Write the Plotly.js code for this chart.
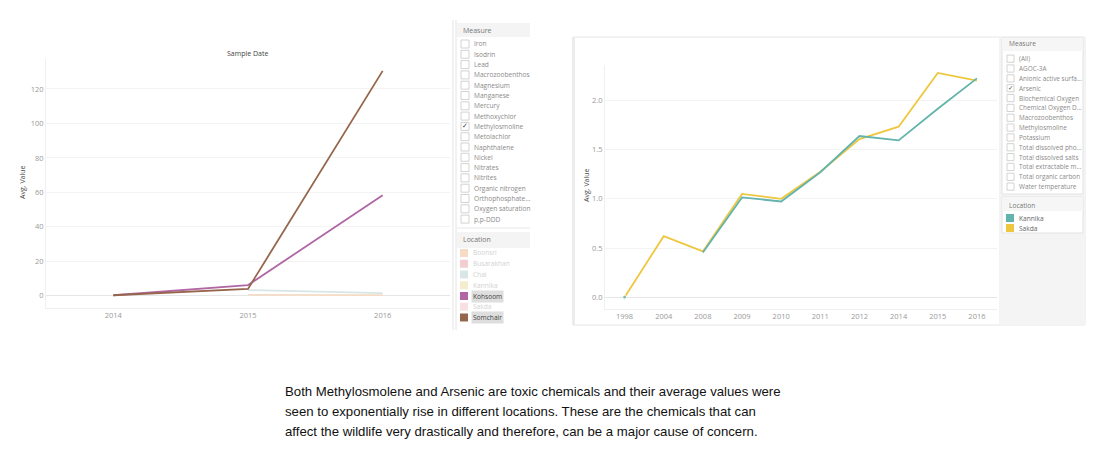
<!DOCTYPE html>
<html><head><meta charset="utf-8">
<script src="https://cdn.plot.ly/plotly-3.0.1.min.js"></script>
<style>html,body{margin:0;padding:0;background:#fff}#c{width:1100px;height:457px}</style>
</head><body><div id="c"></div>
<script>
// ---------- data ----------
const leftYears = ['2014', '2015', '2016'];
const somchair = [0.3, 4.0, 130.5];
const kohsoom = [0.3, 6.2, 58.3];
const chai = [null, 3.3, 1.5];
const boonsri = [null, 0.5, 0.4];

const rightYears = ['1998', '2004', '2008', '2009', '2010', '2011', '2012', '2014', '2015', '2016'];
const sakda = [0.0, 0.62, 0.465, 1.05, 1.0, 1.275, 1.607, 1.733, 2.279, 2.2];
const kannika = [0.0, null, 0.454, 1.014, 0.973, 1.27, 1.638, 1.594, 1.916, 2.224];

const leftMeasures = ['Iron', 'Isodrin', 'Lead', 'Macrozoobenthos', 'Magnesium', 'Manganese', 'Mercury',
  'Methoxychlor', 'Methylosmoline', 'Metolachlor', 'Naphthalene', 'Nickel', 'Nitrates', 'Nitrites',
  'Organic nitrogen', 'Orthophosphate...', 'Oxygen saturation', 'p,p-DDD'];
const leftChecked = 'Methylosmoline';
const leftLocations = ['Boonsri', 'Busarakhan', 'Chai', 'Kannika', 'Kohsoom', 'Sakda', 'Somchair'];
const leftLocColors = ['#f6dcc6', '#f2cdd2', '#d8e6e5', '#f5ebcf', '#b067a3', '#f8dfe4', '#96664c'];
const leftLocActive = ['Kohsoom', 'Somchair'];

const rightMeasures = ['(All)', 'AGOC-3A', 'Anionic active surfa...', 'Arsenic', 'Biochemical Oxygen',
  'Chemical Oxygen D...', 'Macrozoobenthos', 'Methylosmoline', 'Potassium', 'Total dissolved pho...',
  'Total dissolved salts', 'Total extractable m...', 'Total organic carbon', 'Water temperature'];
const rightChecked = 'Arsenic';
const rightLocations = ['Kannika', 'Sakda'];
const rightLocColors = ['#62b4ad', '#efc73f'];

const captionLines = [
  'Both Methylosmolene and Arsenic are toxic chemicals and their average values were',
  'seen to exponentially rise in different locations. These are the chemicals that can',
  'affect the wildlife very drastically and therefore, can be a major cause of concern.'
];

// ---------- helpers ----------
const W = 1100, H = 457;
const px = x => x / W;
const py = y => 1 - y / H;
const FONT = '"Open Sans", Lato, sans-serif';

const shapes = [];
const annotations = [];
function rect(x0, y0, x1, y1, fill, line, lw) {
  shapes.push({type: 'rect', xref: 'paper', yref: 'paper', x0: px(x0), x1: px(x1), y0: py(y1), y1: py(y0),
    fillcolor: fill || 'rgba(0,0,0,0)', line: {color: line || 'rgba(0,0,0,0)', width: lw === undefined ? 1 : lw}, layer: 'below'});
}
function hline(x0, x1, y, color, w) {
  shapes.push({type: 'line', xref: 'paper', yref: 'paper', x0: px(x0), x1: px(x1), y0: py(y), y1: py(y), line: {color: color, width: w || 1}});
}
function vline(x, y0, y1, color, w) {
  shapes.push({type: 'line', xref: 'paper', yref: 'paper', x0: px(x), x1: px(x), y0: py(y0), y1: py(y1), line: {color: color, width: w || 1}});
}
function text(x, y, t, opts) {
  opts = opts || {};
  annotations.push(Object.assign({xref: 'paper', yref: 'paper', x: px(x), y: py(y), text: t, showarrow: false,
    xanchor: opts.xanchor || 'left', yanchor: 'middle',
    font: {family: opts.family || FONT, size: opts.size || 7, color: opts.color || '#666'}},
    opts.extra || {}));
}

// ---------- left legend panel ----------
vline(453, 20, 330, '#e4e4e4', 1);
vline(456, 20, 330, '#e4e4e4', 1);
rect(457, 23, 530, 37, '#f4f4f4', '#f4f4f4', 0);
text(461, 30, 'Measure', {size: 7, color: '#777'});
leftMeasures.forEach((m, i) => {
  const y = 44 + i * 10.3;
  rect(461, y - 4, 469, y + 4, '#ffffff', '#c8c8c8', 0.8);
  if (m === leftChecked) text(465, y, '✓', {xanchor: 'center', size: 7, color: '#444', family: 'DejaVu Sans'});
  text(472, y, m, {size: 6.6, color: '#8a8a8a'});
});
hline(457, 530, 228, '#e8e8e8', 1);
rect(457, 232, 530, 248, '#f4f4f4', '#f4f4f4', 0);
text(461, 240, 'Location', {size: 7, color: '#777'});
leftLocations.forEach((m, i) => {
  const y = 253 + i * 10.75;
  rect(460, y - 4, 468, y + 4, leftLocColors[i], leftLocColors[i], 0);
  const active = leftLocActive.indexOf(m) >= 0;
  text(471, y, m, {size: 6.6, color: active ? '#444' : '#d2d2d2',
    extra: active ? {bgcolor: '#dedede', borderpad: 1} : {}});
});

// ---------- right chart frame + legend panel ----------
rect(573, 37, 1085, 325, 'rgba(0,0,0,0)', '#e6e6e6', 1);
vline(573.5, 37, 325, '#ececec', 3);
rect(999, 37, 1085, 325, '#f4f4f4', '#f4f4f4', 0);
rect(1002, 38, 1083, 194, '#ffffff', '#e3e3e3', 1);
rect(1002, 38, 1083, 51, '#f6f6f6', '#f6f6f6', 0);
text(1007, 44, 'Measure', {size: 6.6, color: '#777'});
rightMeasures.forEach((m, i) => {
  const y = 58.7 + i * 9.84;
  rect(1007, y - 3.6, 1014, y + 3.6, '#ffffff', '#c8c8c8', 0.8);
  if (m === rightChecked) text(1010.5, y, '✓', {xanchor: 'center', size: 6.5, color: '#444', family: 'DejaVu Sans'});
  text(1017, y, m, {size: 6.4, color: '#8a8a8a'});
});
rect(1002, 197, 1083, 233, '#ffffff', '#e3e3e3', 1);
rect(1002, 197, 1083, 211, '#f6f6f6', '#f6f6f6', 0);
text(1007, 205, 'Location', {size: 6.6, color: '#777'});
rightLocations.forEach((m, i) => {
  const y = 218 + i * 10;
  rect(1006, y - 4, 1014, y + 4, rightLocColors[i], rightLocColors[i], 0);
  text(1017, y, m, {size: 6.6, color: '#666'});
});

// ---------- titles ----------
text(247, 53, 'Sample Date', {xanchor: 'center', size: 7, color: '#444'});
text(22, 182, 'Avg. Value', {xanchor: 'center', size: 7, color: '#444', extra: {textangle: -90}});
text(586, 185, 'Avg. Value', {xanchor: 'center', size: 7, color: '#444', extra: {textangle: -90}});

// ---------- caption ----------
captionLines.forEach((l, i) => {
  text(283, 391 + i * 20.3, l, {size: 13.2, color: '#111', family: '"Liberation Sans", Arial, sans-serif'});
});

// ---------- traces ----------
const lw = 1.8;
const traces = [
  {x: leftYears, y: boonsri, name: 'Boonsri', line: {color: leftLocColors[0], width: lw}},
  {x: leftYears, y: chai, name: 'Chai', line: {color: leftLocColors[2], width: lw}},
  {x: leftYears, y: kohsoom, name: 'Kohsoom', line: {color: leftLocColors[4], width: lw}},
  {x: leftYears, y: somchair, name: 'Somchair', line: {color: leftLocColors[6], width: lw}},
  {x: rightYears, y: sakda, name: 'Sakda', xaxis: 'x2', yaxis: 'y2', line: {color: rightLocColors[1], width: lw}},
  {x: rightYears, y: kannika, name: 'Kannika', xaxis: 'x2', yaxis: 'y2', mode: 'lines+markers',
    marker: {size: kannika.map((v, i) => i === 0 ? 4 : 0), color: rightLocColors[0]},
    line: {color: rightLocColors[0], width: lw}}
].map(t => Object.assign({type: 'scatter', mode: 'lines', hoverinfo: 'skip', connectgaps: false}, t));

const tickfont = {family: FONT, size: 7.5, color: '#999'};
const layout = {
  width: W, height: H,
  margin: {l: 0, r: 0, t: 0, b: 0},
  paper_bgcolor: '#ffffff', plot_bgcolor: 'rgba(0,0,0,0)',
  showlegend: false,
  xaxis: {domain: [px(46), px(450)], anchor: 'y', type: 'category', range: [-0.5, 2.5],
    showgrid: false, zeroline: false, showline: true, linecolor: '#efefef', linewidth: 1,
    ticks: '', tickfont: tickfont, fixedrange: true},
  yaxis: {domain: [py(308), py(59)], anchor: 'x', range: [-7.1, 137.4], dtick: 20,
    showgrid: true, gridcolor: '#f3f3f3', gridwidth: 1, zeroline: true, zerolinecolor: '#e6e6e6', zerolinewidth: 1,
    showline: true, linecolor: '#f0f0f0', ticks: '', tickfont: tickfont, fixedrange: true},
  xaxis2: {domain: [px(605), px(996.5)], anchor: 'y2', type: 'category', range: [-0.5, 9.5],
    showgrid: false, zeroline: false, showline: true, linecolor: '#efefef', linewidth: 1,
    ticks: '', tickfont: tickfont, fixedrange: true},
  yaxis2: {domain: [py(309), py(65)], anchor: 'x2', range: [-0.12, 2.36], dtick: 0.5, tickformat: '.1f',
    showgrid: true, gridcolor: '#f3f3f3', gridwidth: 1, zeroline: true, zerolinecolor: '#e6e6e6', zerolinewidth: 1,
    showline: true, linecolor: '#f0f0f0', ticks: '', tickfont: tickfont, fixedrange: true},
  shapes: shapes,
  annotations: annotations
};

Plotly.newPlot('c', traces, layout, {displayModeBar: false, staticPlot: true});
</script>
</body></html>
